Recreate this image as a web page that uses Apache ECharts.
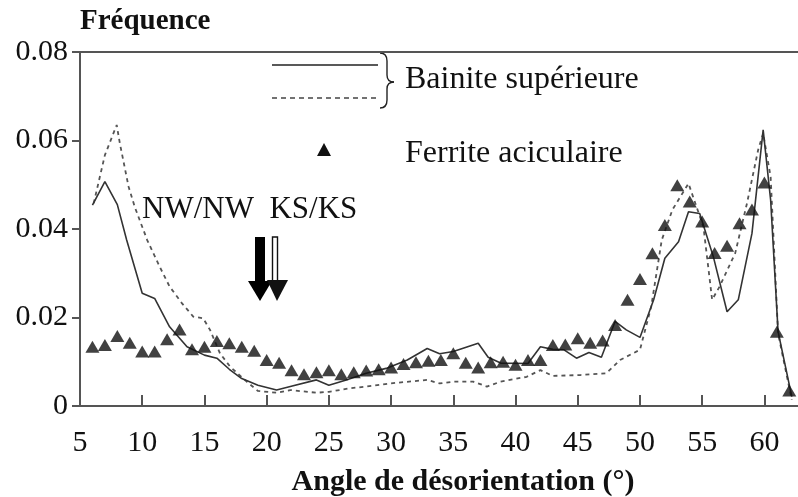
<!DOCTYPE html>
<html>
<head>
<meta charset="utf-8">
<script src="https://cdn.jsdelivr.net/npm/echarts@6/dist/echarts.min.js"></script>
<style>html,body{margin:0;padding:0;background:#fff;}#c{width:798px;height:497px;}</style>
</head>
<body>
<div id="c"></div>
<script>
// Tick settings
const xTicks = {min: 5, max: 62.7, interval: 5};
const yTicks = {min: 0, max: 0.08, interval: 0.02};

// Bainite supérieure (solid) [angle, frequency]
const bainiteSolid = [
  [6,0.0454],[7,0.0507],[8,0.0455],[8.75,0.0375],[10,0.0255],[11,0.0243],[12.2,0.0179],
  [13.6,0.0134],[15,0.0115],[16,0.0108],[17,0.0083],[18,0.0062],[19.3,0.0047],[20.8,0.0036],
  [21.9,0.0044],[24,0.0059],[25,0.0047],[26.4,0.0059],[28,0.0074],[29.6,0.0085],[31.3,0.0104],
  [32.9,0.0130],[33.9,0.0118],[35,0.0123],[37,0.0142],[37.8,0.0110],[38.8,0.0097],[41,0.0096],
  [42,0.0134],[43,0.0128],[43.9,0.0127],[44.9,0.0108],[45.9,0.0121],[46.9,0.0110],[48,0.0191],
  [48.9,0.0172],[50,0.0155],[51.1,0.0240],[52,0.0334],[53.1,0.0371],[53.9,0.0439],[54.8,0.0435],
  [55.9,0.0337],[57,0.0213],[57.9,0.0240],[59,0.0390],[59.9,0.0624],[60.5,0.0466],[61.1,0.0168],
  [62.2,0.0021]
];

// Bainite supérieure (dashed) [angle, frequency]
const bainiteDashed = [
  [6.1,0.0458],[7,0.0567],[7.95,0.0635],[8.2,0.0594],[8.9,0.0496],[9.4,0.0450],[10.4,0.0375],
  [11.4,0.0315],[12.2,0.0270],[13.2,0.0232],[14.1,0.0202],[14.9,0.0198],[15.45,0.0172],
  [16.25,0.0119],[17.06,0.0089],[18.4,0.0055],[19.3,0.0034],[20.8,0.0030],[21.9,0.0036],
  [24,0.0030],[25,0.0032],[26.7,0.0040],[28,0.0044],[29.9,0.0051],[32.9,0.0059],[33.9,0.0051],
  [35,0.0055],[36.6,0.0055],[37.7,0.0044],[38.8,0.0055],[40.9,0.0066],[42,0.0081],[43,0.0068],
  [45.2,0.0070],[47.3,0.0074],[48.4,0.0104],[50,0.0127],[50.9,0.0224],[51.75,0.0375],
  [52.6,0.0443],[53.9,0.0503],[54.4,0.0462],[55.1,0.0405],[55.8,0.0240],[56.4,0.0270],
  [57.65,0.0345],[58.6,0.0458],[59.5,0.0579],[59.9,0.0616],[60.5,0.0518],[61.1,0.0164],
  [62.2,0.0014]
];

// Ferrite aciculaire (triangles): angles and frequencies
const ferriteAngles = [6,7,8,9,10,11,12,13,14,15,16,17,18,19,20,21,22,23,24,25,26,27,28,29,30,31,32,33,34,
  35,36,37,38,39,40,41,42,43,44,45,46,47,48,49,50,51,52,53,54,55,56,57,58,59,60,61,62];
const ferriteValues = [0.0134,0.0138,0.0158,0.0143,0.0123,0.0123,0.0151,0.0173,0.0128,0.0134,0.0147,
  0.0142,0.0134,0.0125,0.0104,0.0098,0.0081,0.0072,0.0076,0.0081,0.0072,0.0076,0.0080,0.0083,0.0087,
  0.0095,0.0099,0.0102,0.0104,0.0119,0.0098,0.0087,0.0099,0.0100,0.0093,0.0104,0.0104,0.0138,0.0139,
  0.0153,0.0143,0.0148,0.0183,0.0240,0.0287,0.0345,0.0409,0.0499,0.0462,0.0417,0.0346,0.0362,0.0413,
  0.0444,0.0505,0.0168,0.0035];

const FONT = 'Liberation Serif';
const axisCol = '#555';
const chart = echarts.init(document.getElementById('c'));

const braceStyle = {stroke: '#222', lineWidth: 1.4, fill: null};

const option = {
  animation: false,
  backgroundColor: '#fff',
  grid: {left: 80, right: 0, top: 52, bottom: 91, containLabel: false, outerBoundsMode: 'none'},
  xAxis: [{
    type: 'value', position: 'bottom',
    min: xTicks.min, max: xTicks.max, interval: xTicks.interval,
    axisLine: {show: true, onZero: false, lineStyle: {color: axisCol, width: 2}},
    axisTick: {show: true, inside: true, length: 11, lineStyle: {color: axisCol, width: 2}},
    axisLabel: {fontFamily: FONT, fontSize: 30, color: '#111', margin: 22,
      showMaxLabel: false,
      formatter: v => (v % 5 === 0 ? String(v) : '')},
    splitLine: {show: false},
    name: 'Angle de désorientation (°)', nameLocation: 'middle', nameGap: 61,
    nameTextStyle: {fontFamily: FONT, fontSize: 30, fontWeight: 'bold', color: '#111', padding: [0,0,0,48]}
  }, {
    type: 'value', position: 'top',
    min: xTicks.min, max: xTicks.max,
    axisLine: {show: true, onZero: false, lineStyle: {color: axisCol, width: 2}},
    axisTick: {show: false}, axisLabel: {show: false}, splitLine: {show: false}
  }],
  yAxis: {
    type: 'value',
    min: yTicks.min, max: yTicks.max, interval: yTicks.interval,
    axisLine: {show: true, lineStyle: {color: axisCol, width: 2}},
    axisTick: {show: true, inside: false, length: 8, lineStyle: {color: axisCol, width: 2}},
    axisLabel: {fontFamily: FONT, fontSize: 30, color: '#111', margin: 12,
      formatter: v => (v === 0 ? '0' : v.toFixed(2))},
    splitLine: {show: false},
    name: 'Fréquence', nameLocation: 'end', nameGap: 16,
    nameTextStyle: {fontFamily: FONT, fontSize: 29, fontWeight: 'bold', color: '#111', align: 'left'}
  },
  series: [{
    name: 'Bainite supérieure (1)', type: 'line', xAxisIndex: 0,
    data: bainiteSolid, showSymbol: false, symbol: 'none',
    lineStyle: {color: '#333', width: 1.6, type: 'solid'}, z: 3
  }, {
    name: 'Bainite supérieure (2)', type: 'line', xAxisIndex: 0,
    data: bainiteDashed, showSymbol: false, symbol: 'none',
    lineStyle: {color: '#555', width: 1.8, type: [4, 4]}, z: 2
  }, {
    name: 'Ferrite aciculaire', type: 'scatter', xAxisIndex: 0,
    data: ferriteAngles.map((a, i) => [a, ferriteValues[i]]),
    symbol: 'triangle', symbolSize: [14, 12],
    itemStyle: {color: '#111'}, z: 4
  }],
  graphic: [
    // legend
    {type: 'line', shape: {x1: 272, y1: 65, x2: 378, y2: 65}, style: {stroke: '#222', lineWidth: 1.6}},
    {type: 'line', shape: {x1: 272, y1: 98, x2: 378, y2: 98}, style: {stroke: '#444', lineWidth: 1.6, lineDash: [5, 4]}},
    {type: 'bezierCurve', shape: {x1: 380, y1: 53, cpx1: 387, cpy1: 53, x2: 387, y2: 61}, style: braceStyle},
    {type: 'line', shape: {x1: 387, y1: 61, x2: 387, y2: 75}, style: braceStyle},
    {type: 'bezierCurve', shape: {x1: 387, y1: 75, cpx1: 387, cpy1: 82, x2: 394, y2: 82}, style: braceStyle},
    {type: 'bezierCurve', shape: {x1: 394, y1: 82, cpx1: 387, cpy1: 82, x2: 387, y2: 89}, style: braceStyle},
    {type: 'line', shape: {x1: 387, y1: 89, x2: 387, y2: 100}, style: braceStyle},
    {type: 'bezierCurve', shape: {x1: 387, y1: 100, cpx1: 387, cpy1: 108, x2: 380, y2: 108}, style: braceStyle},
    {type: 'text', left: 405, top: 64, style: {text: 'Bainite supérieure', font: '32px "Liberation Serif"', fill: '#111'}},
    {type: 'polygon', shape: {points: [[324, 143], [317, 156], [331, 156]]}, style: {fill: '#111'}},
    {type: 'text', left: 405, top: 138, style: {text: 'Ferrite aciculaire', font: '32px "Liberation Serif"', fill: '#111'}},
    // annotation
    {type: 'text', left: 142, top: 194, style: {text: 'NW/NW  KS/KS', font: '31px "Liberation Serif"', fill: '#111'}},
    {type: 'rect', shape: {x: 255, y: 237, width: 10, height: 46}, style: {fill: '#000'}},
    {type: 'polygon', shape: {points: [[248, 281], [272, 281], [260, 301]]}, style: {fill: '#000'}},
    {type: 'rect', shape: {x: 272.5, y: 237, width: 5, height: 44}, style: {fill: '#fff', stroke: '#111', lineWidth: 1.4}},
    {type: 'polygon', shape: {points: [[267, 280], [288, 280], [277, 301]]}, style: {fill: '#111'}}
  ]
};
chart.setOption(option);
</script>
</body>
</html>
